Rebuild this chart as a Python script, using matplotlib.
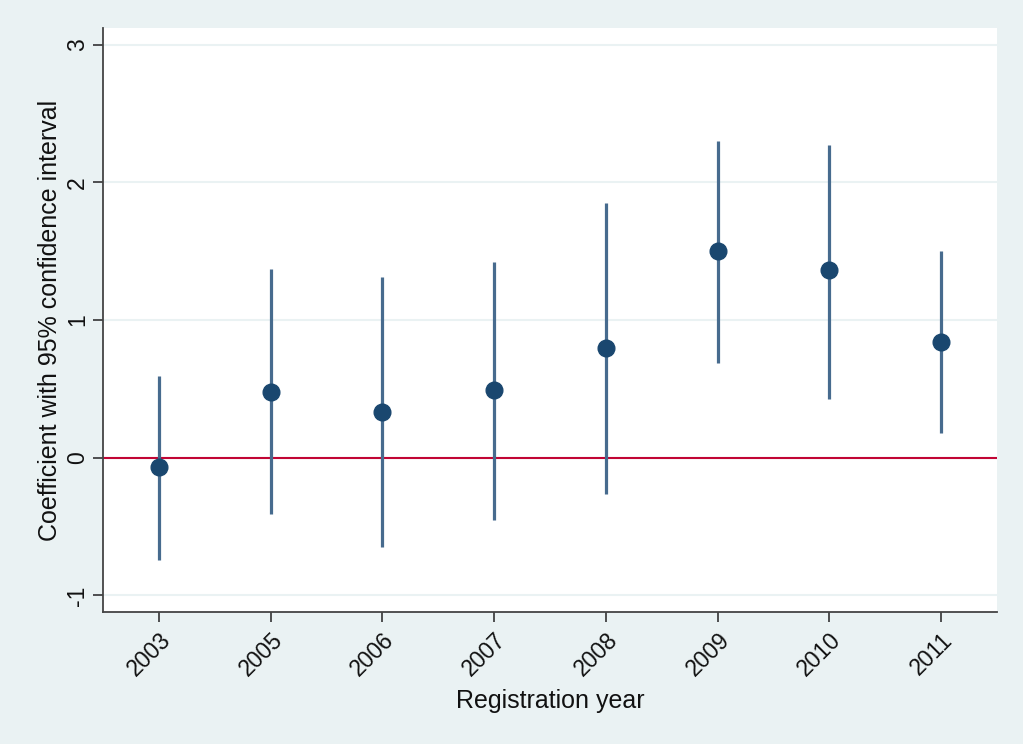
import numpy as np
import matplotlib.pyplot as plt

plt.rcParams['font.family'] = ['Liberation Sans', 'DejaVu Sans']
plt.rcParams['axes.unicode_minus'] = False

# Registreringsår og koeffisienter med 95% KI
years = ['2003', '2005', '2006', '2007', '2008', '2009', '2010', '2011']
coef = np.array([-0.07, 0.48, 0.33, 0.49, 0.80, 1.50, 1.36, 0.84])
ci_low = np.array([-0.74, -0.41, -0.65, -0.45, -0.26, 0.69, 0.43, 0.18])
ci_high = np.array([0.59, 1.37, 1.31, 1.42, 1.85, 2.30, 2.27, 1.50])

bg = '#eaf2f3'
x = np.arange(1, len(years) + 1)

fig = plt.figure(figsize=(10.23, 7.44), dpi=100, facecolor=bg)
ax = fig.add_axes([103/1023, 1 - 612/744, (997-103)/1023, (612-28)/744])
ax.set_facecolor('white')

ax.set_xlim(0.5, 8.5)
ax.set_ylim(-1.12, 3.12)

ax.set_yticks([-1, 0, 1, 2, 3])
ax.grid(axis='y', color=bg, linewidth=1.5)
ax.set_axisbelow(True)

ax.axhline(0, color='#c10534', linewidth=1.5, zorder=2)
ax.vlines(x, ci_low, ci_high, color='#476b8e', linewidth=2.3, zorder=3)
ax.plot(x, coef, 'o', color='#1a476f', markersize=12, zorder=4)

ax.set_xticks(x)
ax.set_xticklabels(years, rotation=45, ha='right', rotation_mode='anchor')
ax.tick_params(axis='both', length=7, width=1.2, color='#333333',
               labelcolor='#111111', labelsize=16.5)
ax.tick_params(axis='x', pad=5)
ax.tick_params(axis='y', pad=3)
for lab in ax.get_yticklabels():
    lab.set_rotation(90)
    lab.set_va('center')

for side in ['top', 'right']:
    ax.spines[side].set_visible(False)
for side in ['left', 'bottom']:
    ax.spines[side].set_color('#444444')
    ax.spines[side].set_linewidth(1.3)

ax.set_xlabel('Registration year', fontsize=18, color='#111111', labelpad=6)
ax.set_ylabel('Coefficient with 95% confidence interval', fontsize=18,
              color='#111111', labelpad=3)

fig.savefig('out.png', dpi=100, facecolor=bg)
